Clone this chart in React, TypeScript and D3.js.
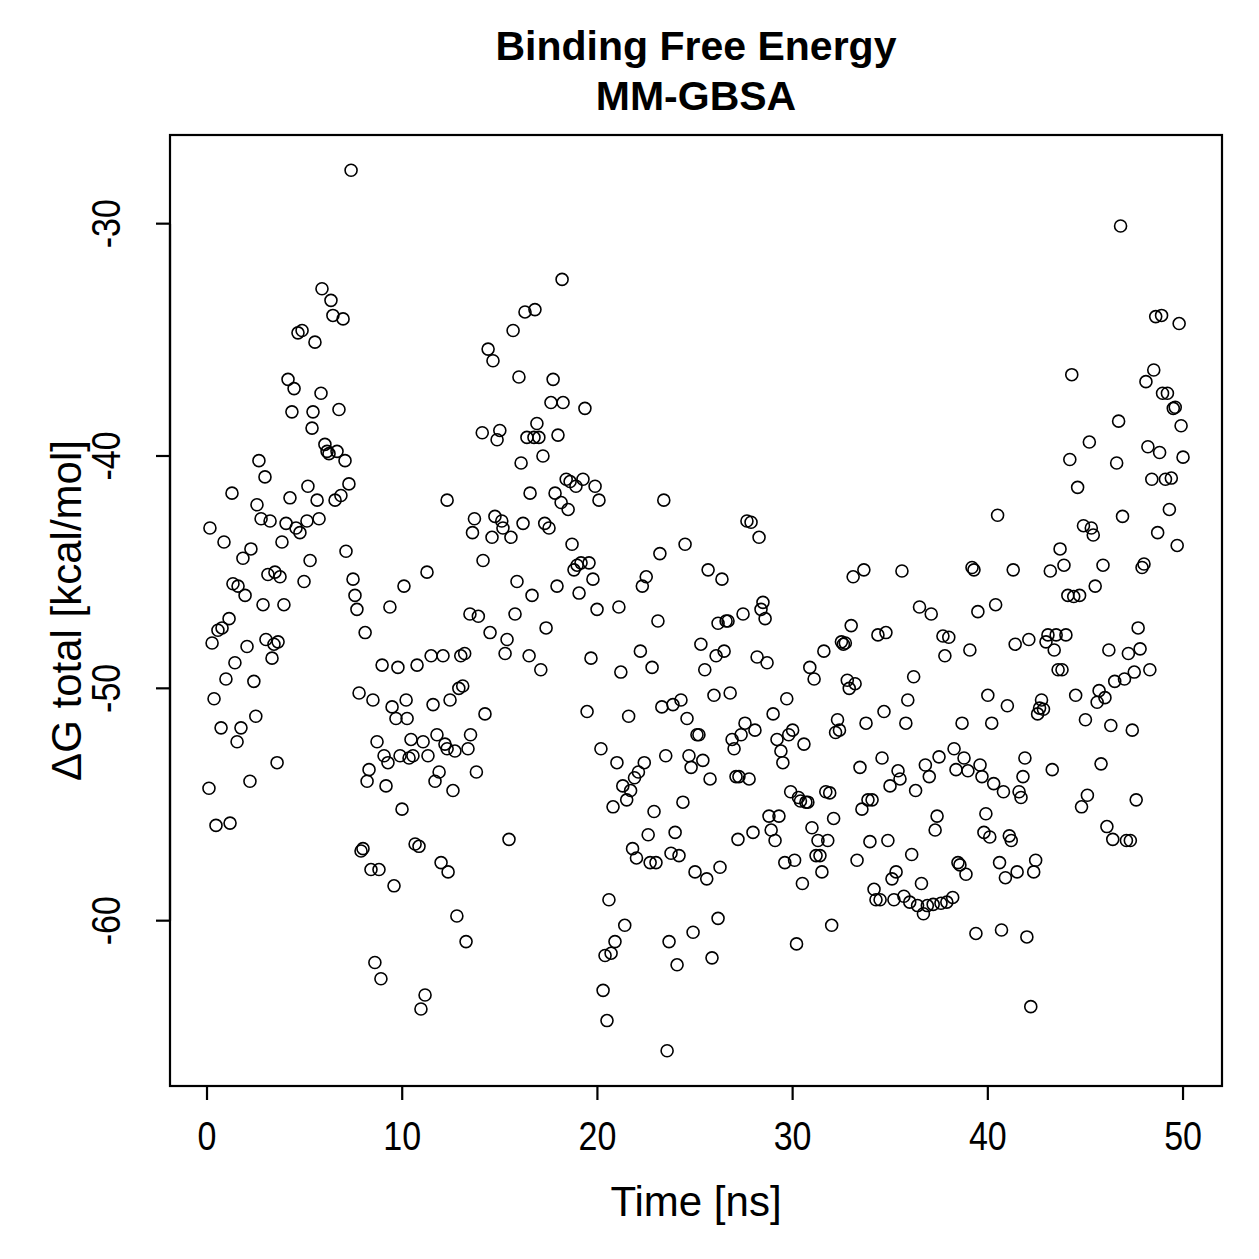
import * as d3 from "d3";

// MM-GBSA binding free energy per frame
const timeNs = [
  0.1, 0.15, 0.26, 0.36, 0.46, 0.56, 0.72, 0.77, 0.87, 0.97, 1.13, 1.18, 1.28, 1.33, 1.43, 1.54, 1.59, 1.74, 1.84, 1.95,
  2.05, 2.2, 2.25, 2.4, 2.5, 2.56, 2.66, 2.77, 2.87, 2.97, 3.02, 3.12, 3.23, 3.33, 3.43, 3.48, 3.59, 3.64, 3.74, 3.84,
  3.94, 4.05, 4.15, 4.25, 4.35, 4.46, 4.56, 4.66, 4.76, 4.87, 4.97, 5.12, 5.17, 5.28, 5.38, 5.43, 5.53, 5.64, 5.74, 5.84,
  5.89, 6.04, 6.15, 6.25, 6.35, 6.45, 6.56, 6.66, 6.76, 6.86, 6.97, 7.07, 7.12, 7.27, 7.38, 7.48, 7.58, 7.68, 7.79, 7.89,
  7.99, 8.1, 8.2, 8.3, 8.4, 8.5, 8.6, 8.71, 8.81, 8.91, 8.97, 9.07, 9.17, 9.27, 9.37, 9.48, 9.58, 9.68, 9.78, 9.89,
  9.99, 10.09, 10.2, 10.25, 10.35, 10.45, 10.55, 10.66, 10.76, 10.86, 10.96, 11.07, 11.17, 11.27, 11.32, 11.48, 11.58, 11.68, 11.78, 11.89,
  11.99, 12.09, 12.19, 12.3, 12.3, 12.35, 12.45, 12.6, 12.7, 12.8, 12.9, 13.0, 13.1, 13.2, 13.27, 13.37, 13.47, 13.5, 13.6, 13.7,
  13.8, 13.9, 14.1, 14.14, 14.24, 14.4, 14.5, 14.6, 14.65, 14.75, 14.86, 15.0, 15.1, 15.16, 15.27, 15.37, 15.47, 15.57, 15.68, 15.78,
  15.88, 15.98, 16.09, 16.19, 16.29, 16.39, 16.5, 16.55, 16.65, 16.75, 16.8, 16.9, 17.0, 17.1, 17.21, 17.3, 17.37, 17.52, 17.62, 17.73,
  17.83, 17.93, 17.98, 18.14, 18.19, 18.24, 18.4, 18.5, 18.6, 18.7, 18.8, 18.9, 18.96, 19.06, 19.16, 19.26, 19.36, 19.47, 19.57, 19.67,
  19.77, 19.88, 19.98, 20.08, 20.18, 20.29, 20.39, 20.49, 20.59, 20.7, 20.8, 20.9, 21.0, 21.1, 21.2, 21.3, 21.4, 21.5, 21.6, 21.7,
  21.8, 21.9, 22.0, 22.1, 22.2, 22.3, 22.4, 22.5, 22.6, 22.7, 22.8, 22.9, 23.0, 23.1, 23.2, 23.3, 23.4, 23.5, 23.57, 23.67,
  23.77, 23.87, 23.98, 24.08, 24.18, 24.28, 24.38, 24.49, 24.59, 24.69, 24.8, 24.9, 25.0, 25.1, 25.2, 25.3, 25.4, 25.5, 25.6, 25.67,
  25.77, 25.87, 25.97, 26.08, 26.18, 26.18, 26.28, 26.38, 26.49, 26.59, 26.69, 26.8, 26.9, 27.0, 27.1, 27.2, 27.25, 27.36, 27.46, 27.56,
  27.66, 27.77, 27.87, 27.97, 28.07, 28.18, 28.28, 28.38, 28.48, 28.59, 28.69, 28.79, 28.9, 29.0, 29.1, 29.2, 29.3, 29.4, 29.5, 29.6,
  29.7, 29.8, 29.9, 30.0, 30.1, 30.2, 30.3, 30.4, 30.5, 30.58, 30.68, 30.78, 30.88, 30.99, 31.1, 31.2, 31.3, 31.4, 31.5, 31.6,
  31.7, 31.8, 31.9, 32.0, 32.1, 32.2, 32.3, 32.4, 32.5, 32.6, 32.7, 32.8, 32.9, 33.0, 33.1, 33.2, 33.3, 33.45, 33.55, 33.65,
  33.76, 33.86, 33.96, 34.07, 34.17, 34.27, 34.37, 34.48, 34.58, 34.68, 34.78, 34.88, 34.99, 35.09, 35.19, 35.3, 35.4, 35.5, 35.6, 35.7,
  35.8, 35.9, 36.0, 36.1, 36.2, 36.3, 36.4, 36.5, 36.6, 36.7, 36.8, 36.9, 37.0, 37.1, 37.2, 37.3, 37.4, 37.5, 37.6, 37.7,
  37.8, 37.9, 38.0, 38.2, 38.27, 38.37, 38.47, 38.57, 38.68, 38.78, 38.88, 38.98, 39.08, 39.19, 39.29, 39.39, 39.49, 39.6, 39.7, 39.8,
  39.9, 40.0, 40.1, 40.2, 40.3, 40.4, 40.5, 40.6, 40.7, 40.8, 40.9, 41.0, 41.1, 41.2, 41.3, 41.4, 41.5, 41.6, 41.7, 41.8,
  41.9, 42.0, 42.1, 42.2, 42.35, 42.45, 42.55, 42.65, 42.75, 42.85, 42.98, 43.08, 43.2, 43.3, 43.4, 43.5, 43.6, 43.7, 43.8, 43.9,
  44.0, 44.1, 44.2, 44.3, 44.4, 44.5, 44.6, 44.7, 44.8, 44.9, 45.0, 45.1, 45.2, 45.3, 45.4, 45.5, 45.6, 45.7, 45.8, 45.9,
  46.0, 46.1, 46.2, 46.3, 46.4, 46.5, 46.6, 46.7, 46.8, 46.9, 47.0, 47.1, 47.2, 47.3, 47.4, 47.5, 47.6, 47.7, 47.8, 47.9,
  48.0, 48.1, 48.2, 48.3, 48.4, 48.5, 48.6, 48.7, 48.8, 48.9, 48.95, 49.1, 49.2, 49.3, 49.4, 49.5, 49.6, 49.7, 49.8, 49.9,
  50.0,
];

const deltaG = [
  -54.3, -43.1, -48.05, -50.45, -55.9, -47.5, -51.7, -47.4, -43.7, -49.6, -47.0, -55.8, -41.6, -45.5, -48.9, -52.3, -45.6, -51.7, -44.4, -46.0,
  -48.2, -54.0, -44.0, -49.7, -51.2, -42.1, -40.2, -42.7, -46.4, -40.9, -47.9, -45.1, -42.8, -48.7, -48.1, -45.0, -53.2, -48.0, -45.2, -43.7,
  -46.4, -42.9, -36.7, -41.8, -38.1, -37.1, -43.1, -34.7, -43.3, -34.6, -45.4, -42.8, -41.3, -44.5, -38.8, -38.1, -35.1, -41.9, -42.7, -37.3,
  -32.8, -39.5, -39.8, -39.9, -33.3, -33.95, -41.9, -39.8, -38.0, -41.7, -34.1, -40.2, -44.1, -41.2, -27.7, -45.3, -46.0, -46.6, -50.2, -57.0,
  -56.9, -47.6, -54.0, -53.5, -57.8, -50.5, -61.8, -52.3, -57.8, -62.5, -49.0, -52.9, -54.2, -53.2, -46.5, -50.8, -58.5, -51.3, -49.1, -52.9,
  -55.2, -45.6, -50.5, -51.3, -53.0, -52.2, -52.9, -56.7, -49.0, -56.8, -63.8, -52.3, -63.2, -45.0, -52.9, -48.6, -50.7, -54.0, -52.0, -53.6,
  -57.5, -48.6, -52.4, -52.6, -41.9, -57.9, -50.5, -54.4, -52.7, -59.8, -50.0, -48.6, -49.9, -48.5, -60.9, -52.6, -46.8, -52.0, -43.3, -42.7,
  -53.6, -46.9, -39.0, -44.5, -51.1, -35.4, -47.6, -43.5, -35.9, -42.6, -39.3, -38.9, -42.8, -43.1, -48.5, -47.9, -56.5, -43.5, -34.6, -46.8,
  -45.4, -36.6, -40.3, -42.9, -33.8, -39.2, -48.6, -41.6, -46.0, -39.2, -33.7, -38.6, -39.2, -49.2, -40.0, -42.9, -47.4, -43.1, -37.7, -36.7,
  -41.6, -45.6, -39.1, -42.0, -32.4, -37.7, -41.0, -42.3, -41.1, -43.8, -44.9, -41.3, -44.7, -45.9, -44.6, -41.0, -37.95, -51.0, -44.6, -48.7,
  -45.3, -41.3, -46.6, -41.9, -52.6, -63.0, -61.5, -64.3, -59.1, -61.4, -55.1, -60.9, -53.2, -46.5, -49.3, -54.2, -60.2, -54.8, -51.2, -54.4,
  -56.9, -53.85, -57.3, -53.6, -48.4, -45.6, -53.2, -45.2, -56.3, -57.5, -49.1, -55.3, -57.5, -47.1, -44.2, -50.8, -41.9, -52.9, -65.6, -60.9,
  -57.1, -50.7, -56.2, -61.9, -57.2, -50.5, -54.9, -43.8, -51.3, -52.9, -53.4, -60.5, -57.9, -52.0, -52.0, -48.1, -53.1, -49.2, -58.2, -44.9,
  -53.9, -61.6, -50.3, -48.6, -47.2, -59.9, -57.7, -45.3, -48.4, -47.1, -47.1, -50.2, -52.2, -52.6, -53.8, -56.5, -53.8, -52.0, -46.8, -51.5,
  -42.8, -53.9, -42.85, -56.2, -51.8, -48.65, -43.5, -46.6, -46.3, -47.0, -48.9, -55.5, -56.1, -51.1, -56.55, -52.2, -55.5, -52.7, -53.2, -57.5,
  -50.45, -52.0, -54.45, -51.8, -57.4, -61.0, -54.7, -54.85, -58.4, -52.4, -54.9, -54.9, -49.1, -56.0, -49.6, -57.2, -56.55, -57.2, -57.9, -48.4,
  -54.45, -56.55, -54.5, -60.2, -55.6, -51.9, -51.35, -51.8, -48.0, -48.1, -48.05, -49.65, -50.0, -47.3, -45.2, -49.8, -57.4, -53.4, -55.2, -44.9,
  -51.5, -54.8, -56.6, -54.8, -58.65, -59.1, -47.7, -59.1, -53.0, -51.0, -47.6, -56.55, -54.2, -58.2, -59.1, -57.9, -53.55, -53.9, -44.95, -58.95,
  -51.5, -50.5, -59.2, -57.15, -49.5, -54.4, -59.35, -46.5, -58.4, -59.7, -53.3, -59.35, -53.8, -46.8, -59.3, -56.1, -55.5, -52.95, -59.25, -47.75,
  -48.6, -59.2, -47.8, -59.0, -52.6, -53.5, -57.5, -57.6, -51.5, -53.0, -58.0, -53.55, -48.35, -44.8, -44.9, -60.55, -46.7, -53.3, -53.8, -56.2,
  -55.4, -50.3, -56.4, -51.5, -54.1, -46.4, -42.55, -57.5, -60.4, -54.45, -58.15, -50.75, -56.35, -56.55, -44.9, -48.1, -57.9, -54.45, -54.7, -53.8,
  -53.0, -60.7, -47.9, -63.7, -57.9, -57.4, -51.1, -50.85, -50.5, -50.9, -48.0, -47.7, -44.95, -53.5, -48.35, -47.7, -49.2, -44.0, -49.2, -44.7,
  -47.7, -46.0, -40.15, -36.5, -46.05, -50.3, -41.35, -46.0, -55.1, -43.0, -51.35, -54.6, -39.4, -43.1, -43.4, -45.6, -50.6, -50.1, -53.25, -44.7,
  -50.4, -55.95, -48.35, -51.6, -56.5, -49.7, -40.3, -38.5, -30.1, -42.6, -49.6, -56.55, -48.5, -56.55, -51.8, -49.3, -54.8, -47.4, -48.3, -44.8,
  -44.65, -36.8, -39.6, -49.2, -41.0, -36.3, -34.0, -43.3, -39.85, -33.95, -37.3, -41.0, -37.3, -42.3, -40.95, -37.95, -37.9, -43.85, -34.3, -38.7,
  -40.05,
];

const xTicks = [0, 10, 20, 30, 40, 50];
const yTicks = [-60, -50, -40, -30];

const titleLines = ["Binding Free Energy", "MM-GBSA"];
const xLabel = "Time [ns]";
const yLabel = "ΔG total [kcal/mol]";

const W = 1259;
const H = 1259;
const box = { left: 170, right: 1222, top: 135, bottom: 1086 };
const FONT = "'Liberation Sans', Arial, Helvetica, sans-serif";

// base-graphics style 4% padding around the data range
function padded(ext: [number, number]): [number, number] {
  const r = ext[1] - ext[0];
  return [ext[0] - 0.04 * r, ext[1] + 0.04 * r];
}

export default function App() {
  const points = timeNs.map((t, i) => ({ t, g: deltaG[i] }));

  const x = d3
    .scaleLinear()
    .domain(padded(d3.extent(timeNs) as [number, number]))
    .range([box.left, box.right]);
  const y = d3
    .scaleLinear()
    .domain(padded(d3.extent(deltaG) as [number, number]))
    .range([box.bottom, box.top]);

  const tickLen = 14;
  const cx = (box.left + box.right) / 2;
  const cy = (box.top + box.bottom) / 2;
  // tick labels are set tall and narrow
  const tickSize = 40;
  const tickSqueeze = 0.85;

  return (
    <svg
      width={W}
      height={H}
      viewBox={`0 0 ${W} ${H}`}
      style={{ position: "absolute", left: 0, top: 0, background: "#fff" }}
      fontFamily={FONT}
    >
      <rect x={0} y={0} width={W} height={H} fill="#fff" />

      {/* title */}
      <text x={cx} y={60} textAnchor="middle" fontSize={41} fontWeight="bold" fill="#000">
        {titleLines[0]}
      </text>
      <text x={cx} y={110} textAnchor="middle" fontSize={41} fontWeight="bold" fill="#000">
        {titleLines[1]}
      </text>

      {/* points */}
      <g fill="none" stroke="#000" strokeWidth={1.6}>
        {points.map((p, i) => (
          <circle key={i} cx={x(p.t)} cy={y(p.g)} r={6} />
        ))}
      </g>

      {/* frame */}
      <rect
        x={box.left}
        y={box.top}
        width={box.right - box.left}
        height={box.bottom - box.top}
        fill="none"
        stroke="#000"
        strokeWidth={2.2}
      />

      {/* x axis */}
      <g stroke="#000" strokeWidth={2.2}>
        <line x1={x(xTicks[0])} x2={x(xTicks[xTicks.length - 1])} y1={box.bottom} y2={box.bottom} />
        {xTicks.map((t) => (
          <line key={t} x1={x(t)} x2={x(t)} y1={box.bottom} y2={box.bottom + tickLen} />
        ))}
      </g>
      {xTicks.map((t) => (
        <text
          key={t}
          transform={`translate(${x(t)},1150) scale(${tickSqueeze},1)`}
          textAnchor="middle"
          fontSize={tickSize}
          fill="#000"
        >
          {t}
        </text>
      ))}
      <text x={cx} y={1216} textAnchor="middle" fontSize={42} fill="#000">
        {xLabel}
      </text>

      {/* y axis */}
      <g stroke="#000" strokeWidth={2.2}>
        <line x1={box.left} x2={box.left} y1={y(yTicks[0])} y2={y(yTicks[yTicks.length - 1])} />
        {yTicks.map((t) => (
          <line key={t} x1={box.left} x2={box.left - tickLen} y1={y(t)} y2={y(t)} />
        ))}
      </g>
      {yTicks.map((t) => (
        <text
          key={t}
          transform={`translate(120,${y(t)}) rotate(-90) scale(${tickSqueeze},1)`}
          textAnchor="middle"
          fontSize={tickSize}
          fill="#000"
        >
          {t}
        </text>
      ))}
      <text
        transform={`translate(81,${cy}) rotate(-90)`}
        textAnchor="middle"
        fontSize={42}
        fill="#000"
      >
        {yLabel}
      </text>
    </svg>
  );
}
